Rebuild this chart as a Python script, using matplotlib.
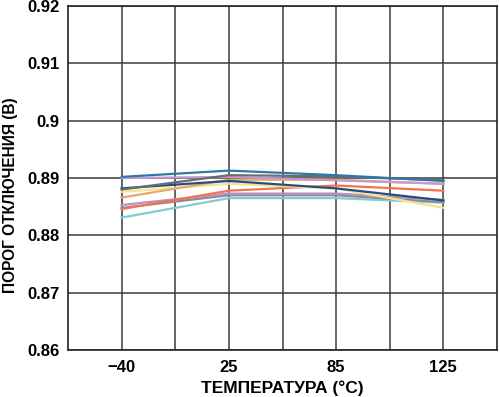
import numpy as np
import matplotlib.pyplot as plt

plt.rcParams['font.family'] = ['Liberation Sans', 'DejaVu Sans']
plt.rcParams['font.weight'] = 'bold'

# ДАННЫЕ
temperatures = ["\u221240", "25", "85", "125"]
x_pos = np.array([1, 3, 5, 7])

blue = [0.8902, 0.8913, 0.8905, 0.8895]
gray = [0.8880, 0.8905, 0.8903, 0.8896]
navy = [0.8882, 0.8895, 0.8882, 0.8861]
lilac = [0.8900, 0.8902, 0.8896, 0.8890]
peach = [0.8866, 0.8897, 0.8897, 0.8890]
yellow = [0.8876, 0.8890, 0.8882, 0.8848]
red = [0.8846, 0.8878, 0.8887, 0.8878]
purple = [0.8853, 0.8873, 0.8873, 0.8862]
gray2 = [0.8848, 0.8870, 0.8870, 0.8858]
teal = [0.8831, 0.8865, 0.8865, 0.8857]

series = [
    (teal, '#86cbcb'),
    (gray2, '#8c8c8f'),
    (purple, '#b890c6'),
    (red, '#f2744f'),
    (yellow, '#f7e28f'),
    (peach, '#e9a86b'),
    (lilac, '#c49bcc'),
    (navy, '#22507e'),
    (gray, '#6b6c70'),
    (blue, '#2f77a8'),
]

fig = plt.figure(figsize=(5.0, 3.97), dpi=100)
ax = fig.add_axes([0.136, 0.118, 0.858, 0.867])

for vals, col in series:
    ax.plot(x_pos, vals, color=col, linewidth=1.6, zorder=3)

ax.set_xlim(0, 8)
ax.set_ylim(0.86, 0.92)
ax.set_xticks(x_pos)
ax.set_xticklabels(temperatures)
ax.set_xticks([2, 4, 6], minor=True)
ax.set_yticks(np.arange(0.86, 0.9201, 0.01))
ax.set_yticklabels(["0.86", "0.87", "0.88", "0.89", "0.9", "0.91", "0.92"])

ax.grid(True, which='both', color='#3a3a3a', linewidth=1.1, zorder=1)
ax.tick_params(which='both', length=0, labelsize=12)
ax.tick_params(axis='y', pad=6)
ax.tick_params(axis='x', pad=7)
for s in ax.spines.values():
    s.set_color('#222222')
    s.set_linewidth(1.2)

ax.set_xlabel("ТЕМПЕРАТУРА (°C)", fontsize=12.5, fontweight='bold', va='center')
ax.set_ylabel("ПОРОГ ОТКЛЮЧЕНИЯ (В)", fontsize=11.2, fontweight='bold', va='center')
ax.xaxis.set_label_coords(0.5, -0.112)
ax.yaxis.set_label_coords(-0.134, 0.45)

fig.savefig("out.png", dpi=100)
